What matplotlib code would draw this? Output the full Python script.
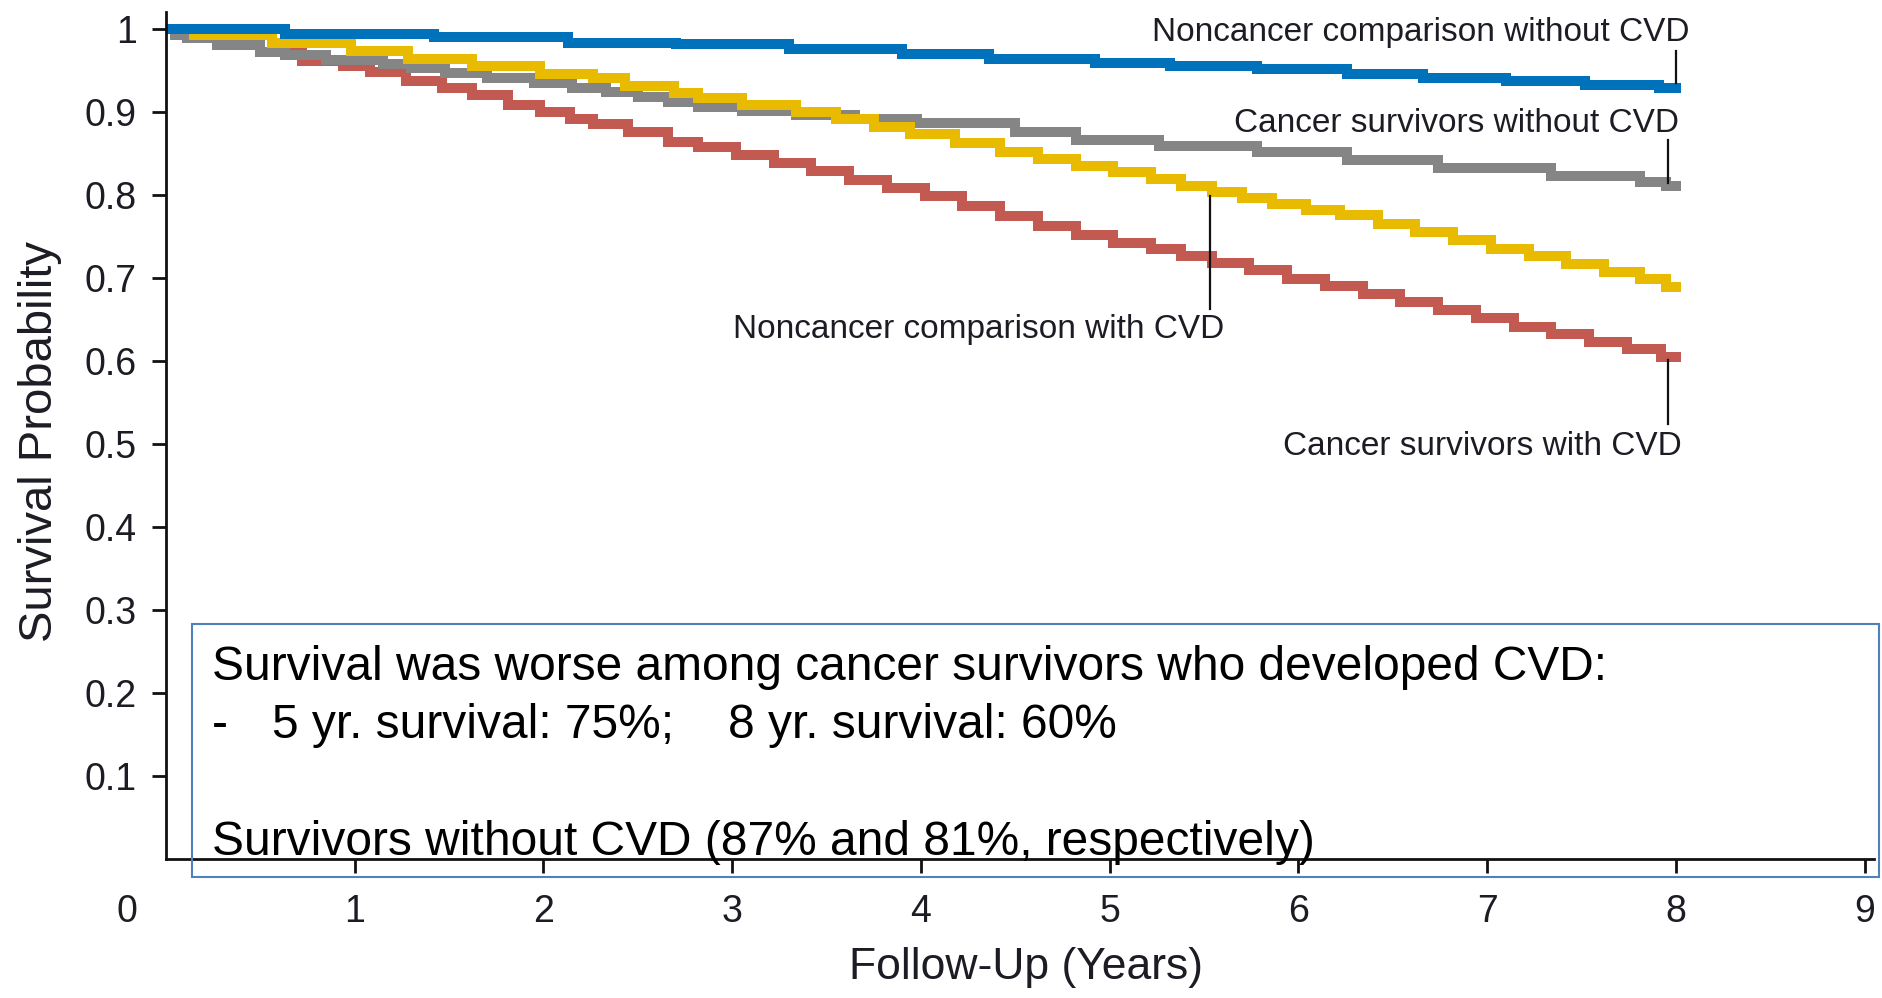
import matplotlib
matplotlib.use("Agg")
import matplotlib.pyplot as plt
from matplotlib.patches import Rectangle

# Kaplan-Meier survival, four groups (step points: follow-up years, survival)
noncancer_no_cvd_t = [0.0, 0.63, 1.42, 2.13, 2.70, 3.30, 3.90, 4.36, 4.92, 5.32,
                      5.78, 6.26, 6.66, 7.10, 7.52, 7.91, 8.00]
noncancer_no_cvd_s = [1.000, 0.994, 0.9895, 0.983, 0.981, 0.9755, 0.969, 0.963, 0.959, 0.955,
                      0.951, 0.945, 0.941, 0.937, 0.932, 0.929, 0.929]

cancer_no_cvd_t = [0.0, 0.05, 0.11, 0.27, 0.50, 0.63, 0.85, 1.15, 1.30, 1.48, 1.70, 1.95,
                   2.15, 2.33, 2.50, 2.66, 2.82, 3.05, 3.34, 3.65, 3.98, 4.50, 4.82, 5.26,
                   5.78, 6.26, 6.74, 7.34, 7.81, 7.95, 8.00]
cancer_no_cvd_s = [1.000, 0.992, 0.989, 0.980, 0.972, 0.968, 0.962, 0.957, 0.952, 0.947, 0.941, 0.934,
                   0.929, 0.924, 0.918, 0.912, 0.906, 0.901, 0.896, 0.891, 0.886, 0.876, 0.866, 0.859,
                   0.851, 0.842, 0.832, 0.823, 0.815, 0.810, 0.810]

noncancer_cvd_t = [0.0, 0.15, 0.56, 0.98, 1.28, 1.62, 1.98, 2.26, 2.43, 2.69, 2.82, 3.05,
                   3.34, 3.55, 3.75, 3.94, 4.18, 4.42, 4.62, 4.82, 5.02, 5.22, 5.38, 5.54,
                   5.70, 5.86, 6.04, 6.22, 6.42, 6.62, 6.82, 7.02, 7.22, 7.42, 7.62, 7.81,
                   7.95, 8.00]
noncancer_cvd_s = [1.000, 0.992, 0.983, 0.9735, 0.9635, 0.955, 0.945, 0.940, 0.931, 0.922, 0.916, 0.908,
                   0.899, 0.891, 0.882, 0.873, 0.862, 0.851, 0.843, 0.835, 0.827, 0.819, 0.811, 0.803,
                   0.796, 0.789, 0.782, 0.775, 0.765, 0.755, 0.745, 0.735, 0.726, 0.716, 0.707, 0.698,
                   0.689, 0.689]

cancer_cvd_t = [0.0, 0.10, 0.30, 0.50, 0.72, 0.94, 1.08, 1.27, 1.46, 1.62, 1.81, 1.98,
                2.14, 2.26, 2.45, 2.66, 2.82, 3.02, 3.22, 3.42, 3.62, 3.82, 4.02, 4.22,
                4.42, 4.62, 4.82, 5.02, 5.22, 5.38, 5.54, 5.74, 5.94, 6.14, 6.34, 6.54,
                6.74, 6.94, 7.14, 7.34, 7.54, 7.74, 7.92, 8.00]
cancer_cvd_s = [1.000, 0.992, 0.982, 0.972, 0.9615, 0.9555, 0.948, 0.937, 0.928, 0.920, 0.908, 0.899,
                0.891, 0.885, 0.876, 0.864, 0.857, 0.848, 0.838, 0.828, 0.818, 0.808, 0.798, 0.786,
                0.774, 0.762, 0.751, 0.742, 0.734, 0.726, 0.718, 0.709, 0.699, 0.690, 0.681, 0.671,
                0.661, 0.651, 0.641, 0.632, 0.623, 0.614, 0.604, 0.604]

x_ticks = [1, 2, 3, 4, 5, 6, 7, 8, 9]
y_ticks = [0.1, 0.2, 0.3, 0.4, 0.5, 0.6, 0.7, 0.8, 0.9, 1.0]
y_tick_labels = ["0.1", "0.2", "0.3", "0.4", "0.5", "0.6", "0.7", "0.8", "0.9", "1"]

# curve labels: text, label anchor (x, y), leader line (x, y_top, y_bottom)
curve_labels = ["Noncancer comparison without CVD", "Cancer survivors without CVD",
                "Noncancer comparison with CVD", "Cancer survivors with CVD"]
label_pos = [(8.07, 0.9856), (8.015, 0.875), (5.605, 0.628), (8.03, 0.486)]
leaders = [(8.0, 0.973, 0.934), (7.958, 0.8664, 0.8135), (5.53, 0.7990, 0.6619), (7.958, 0.6005, 0.5235)]

note_lines = ["Survival was worse among cancer survivors who developed CVD:",
              "Survivors without CVD (87% and 81%, respectively)"]
note_bullet = ["-", "5 yr. survival: 75%;", "8 yr. survival: 60%"]

BLUE = "#0072BC"
GRAY = "#858585"
YELLOW = "#E8BA00"
RED = "#C25A51"
INK = "#1c1c24"

plt.rcParams["font.family"] = ["Liberation Sans", "DejaVu Sans"]

fig = plt.figure(figsize=(18.82, 9.98), dpi=100)
ax = fig.add_axes([166 / 1882, 1 - 859 / 998, 1708 / 1882, 847 / 998])

lw = 7.2
ax.step(cancer_cvd_t, cancer_cvd_s, where="post", color=RED, lw=lw, solid_joinstyle="miter")
ax.step(cancer_no_cvd_t, cancer_no_cvd_s, where="post", color=GRAY, lw=lw, solid_joinstyle="miter")
ax.step(noncancer_cvd_t, noncancer_cvd_s, where="post", color=YELLOW, lw=lw, solid_joinstyle="miter")
ax.step(noncancer_no_cvd_t, noncancer_no_cvd_s, where="post", color=BLUE, lw=lw, solid_joinstyle="miter")

ax.set_xlim(0, 9.05)
ax.set_ylim(0, 1.02)
for side in ["top", "right"]:
    ax.spines[side].set_visible(False)
for side in ["left", "bottom"]:
    ax.spines[side].set_linewidth(2.0)
    ax.spines[side].set_color("#111111")

ax.set_xticks(x_ticks)
ax.set_xticklabels([str(t) for t in x_ticks])
ax.set_yticks(y_ticks)
ax.set_yticklabels(y_tick_labels)
ax.tick_params(axis="both", direction="out", length=10, width=2.0, color="#111111",
               labelsize=27, labelcolor=INK)
ax.tick_params(axis="y", pad=11)
ax.tick_params(axis="x", pad=15)
# shared origin label sits below-left of the corner
ax.text(-0.207, -0.062, "0", transform=ax.get_xaxis_transform(), ha="center", va="center",
        fontsize=27, color=INK)

for text, (lx, ly), (px, y0, y1) in zip(curve_labels, label_pos, leaders):
    ax.text(lx, ly, text, ha="right", va="baseline", fontsize=24, color=INK)
    ax.plot([px, px], [y0, y1], color="#111111", lw=1.6)

fig.text(40 / 1882, 1 - 441 / 998, "Survival Probability", rotation=90,
         ha="center", va="center", fontsize=34, color=INK)
fig.text(1026 / 1882, 1 - 968 / 998, "Follow-Up (Years)",
         ha="center", va="center", fontsize=32, color=INK)

# summary box
box = Rectangle((192 / 1882, 1 - 877 / 998), (1879 - 192) / 1882, (877 - 624) / 998,
                transform=fig.transFigure, fill=False, edgecolor="#4F81BD", lw=1.5)
fig.patches.append(box)
fx = 212 / 1882
fs = 34.5
fig.text(fx, 1 - 680 / 998, note_lines[0], ha="left", va="baseline", fontsize=fs, color="black")
fig.text(fx, 1 - 738 / 998, note_bullet[0], ha="left", va="baseline", fontsize=fs, color="black")
fig.text(272 / 1882, 1 - 738 / 998, note_bullet[1], ha="left", va="baseline", fontsize=fs, color="black")
fig.text(728 / 1882, 1 - 738 / 998, note_bullet[2], ha="left", va="baseline", fontsize=fs, color="black")
fig.text(fx, 1 - 855 / 998, note_lines[1], ha="left", va="baseline", fontsize=fs, color="black")

fig.savefig("out.png", dpi=100)
